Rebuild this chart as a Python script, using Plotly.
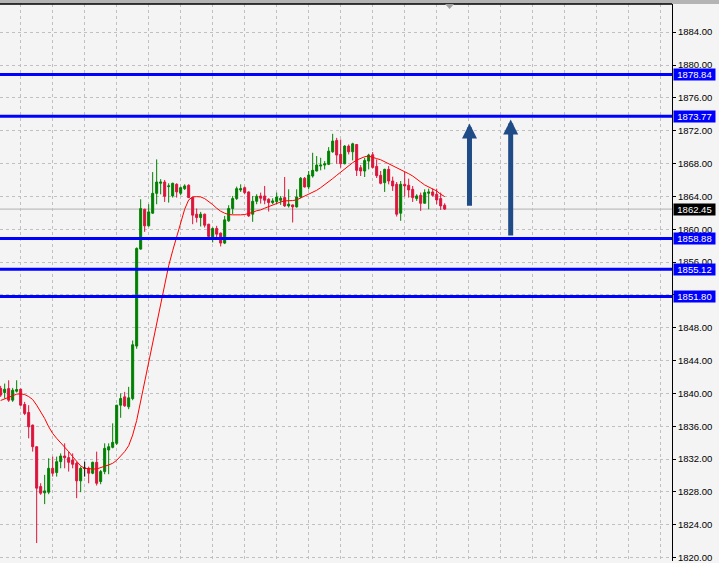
import plotly.graph_objects as go

# ---------------- data ----------------
bar_index = list(range(112))

open_ = [1840.59, 1840.11, 1840.59, 1839.18, 1840.27, 1840.51, 1838.65, 1837.68, 1836.14, 1833.51,
         1828.66, 1827.89, 1827.97, 1830.88, 1830.36, 1831.69, 1832.38, 1832.18, 1831.90, 1831.49,
         1829.35, 1830.88, 1830.88, 1830.28, 1831.61, 1829.27, 1830.48, 1833.11, 1833.43, 1833.92,
         1838.57, 1839.58, 1838.37, 1839.37, 1845.77, 1857.58, 1862.43, 1860.41, 1861.95, 1864.37,
         1865.60, 1865.75, 1865.19, 1864.05, 1865.47, 1864.38, 1864.94, 1865.35, 1863.85, 1861.83,
         1861.42, 1861.83, 1860.61, 1858.99, 1860.09, 1859.52, 1858.31, 1861.02, 1862.52, 1863.73,
         1864.78, 1865.06, 1864.54, 1861.83, 1863.40, 1864.05, 1864.05, 1863.65, 1863.24, 1863.36,
         1863.53, 1863.85, 1862.84, 1862.96, 1862.72, 1863.93, 1866.20, 1865.15, 1866.48, 1867.09,
         1867.69, 1867.81, 1867.90, 1869.43, 1870.81, 1869.11, 1867.98, 1870.12, 1869.43, 1870.32,
         1867.49, 1867.09, 1868.30, 1869.07, 1867.65, 1866.56, 1865.67, 1867.29, 1865.87, 1865.47,
         1861.95, 1865.47, 1865.35, 1864.86, 1863.73, 1864.13, 1863.16, 1864.38, 1864.54, 1864.26,
         1863.73, 1862.92]

high = [1840.92, 1841.20, 1841.60, 1840.67, 1841.60, 1840.59, 1838.97, 1838.57, 1836.20, 1833.55,
        1829.06, 1830.08, 1832.10, 1832.30, 1832.30, 1832.70, 1833.92, 1832.91, 1832.70, 1831.69,
        1831.09, 1831.69, 1831.09, 1831.69, 1832.91, 1830.68, 1833.92, 1833.92, 1836.35, 1838.60,
        1840.00, 1840.19, 1840.80, 1846.45, 1857.78, 1863.65, 1862.50, 1863.04, 1866.96, 1868.50,
        1866.10, 1866.00, 1865.59, 1865.67, 1865.59, 1865.19, 1865.47, 1865.47, 1863.90, 1862.52,
        1862.11, 1861.90, 1860.65, 1860.21, 1860.41, 1859.60, 1861.62, 1862.92, 1864.05, 1865.19,
        1865.47, 1865.19, 1864.60, 1864.05, 1864.26, 1864.46, 1865.27, 1863.77, 1863.77, 1864.46,
        1864.05, 1866.36, 1864.86, 1863.00, 1864.86, 1866.36, 1866.36, 1867.09, 1869.31, 1868.91,
        1868.70, 1868.30, 1870.00, 1871.62, 1871.13, 1870.93, 1870.24, 1870.32, 1870.53, 1870.36,
        1867.81, 1868.70, 1869.19, 1869.40, 1868.50, 1867.09, 1867.37, 1867.69, 1866.40, 1865.75,
        1865.87, 1866.97, 1866.16, 1865.27, 1864.26, 1864.46, 1864.86, 1864.94, 1864.94, 1864.94,
        1864.46, 1863.16]

low = [1839.58, 1839.38, 1838.97, 1838.97, 1840.11, 1838.50, 1837.36, 1834.53, 1832.91, 1821.78,
       1827.65, 1826.52, 1827.73, 1829.87, 1829.87, 1830.88, 1830.88, 1830.48, 1830.88, 1827.24,
       1827.97, 1829.87, 1829.06, 1830.16, 1828.78, 1828.94, 1830.16, 1830.16, 1833.31, 1833.72,
       1837.03, 1838.37, 1838.08, 1839.17, 1845.44, 1857.50, 1859.68, 1860.33, 1861.90, 1863.04,
       1864.25, 1863.32, 1863.24, 1863.85, 1863.85, 1864.13, 1864.78, 1863.80, 1860.61, 1860.82,
       1860.33, 1860.21, 1858.99, 1858.39, 1858.79, 1857.90, 1858.19, 1860.90, 1861.83, 1863.57,
       1864.54, 1864.25, 1861.50, 1860.90, 1863.04, 1863.12, 1863.04, 1862.15, 1863.04, 1863.04,
       1862.96, 1862.72, 1862.64, 1860.82, 1862.64, 1863.77, 1865.07, 1864.86, 1866.28, 1867.05,
       1867.17, 1867.29, 1867.81, 1869.31, 1867.98, 1867.49, 1867.90, 1869.11, 1868.38, 1866.48,
       1866.48, 1866.36, 1867.29, 1867.41, 1866.24, 1865.47, 1864.54, 1865.47, 1864.66, 1861.54,
       1861.02, 1863.97, 1863.85, 1863.32, 1863.45, 1862.23, 1863.16, 1862.43, 1863.97, 1863.04,
       1862.35, 1862.35]

close = [1839.80, 1840.51, 1839.18, 1840.39, 1840.47, 1838.57, 1837.56, 1835.94, 1833.51, 1828.46,
         1827.85, 1828.13, 1830.88, 1830.28, 1831.69, 1832.38, 1832.18, 1831.61, 1831.37, 1829.35,
         1830.88, 1830.88, 1830.28, 1831.61, 1829.06, 1830.48, 1833.31, 1833.51, 1834.04, 1838.57,
         1839.38, 1838.49, 1839.46, 1845.93, 1857.66, 1862.51, 1860.41, 1862.11, 1864.37, 1865.75,
         1865.75, 1864.00, 1865.27, 1865.59, 1864.54, 1865.06, 1865.27, 1863.85, 1861.71, 1861.42,
         1861.83, 1860.49, 1859.12, 1860.09, 1859.40, 1858.31, 1861.14, 1862.52, 1863.73, 1864.94,
         1864.94, 1864.46, 1861.62, 1863.40, 1864.00, 1863.77, 1863.53, 1863.24, 1863.45, 1863.93,
         1863.77, 1862.84, 1863.04, 1862.72, 1863.93, 1866.20, 1865.15, 1866.60, 1867.17, 1867.81,
         1867.81, 1867.98, 1869.51, 1870.73, 1869.03, 1867.98, 1870.12, 1869.43, 1870.40, 1867.17,
         1867.09, 1868.38, 1869.03, 1867.53, 1866.52, 1865.59, 1867.29, 1865.87, 1865.27, 1861.83,
         1865.47, 1865.27, 1864.78, 1863.85, 1864.05, 1863.16, 1864.46, 1864.54, 1864.13, 1863.57,
         1862.84, 1862.45]

moving_avg = [1839.14, 1839.34, 1839.58, 1839.78, 1839.91, 1839.95, 1839.86, 1839.62, 1839.26, 1838.57,
              1837.84, 1836.95, 1835.94, 1835.13, 1834.53, 1834.00, 1833.51, 1832.91, 1832.30, 1831.69,
              1831.17, 1830.88, 1830.80, 1830.80, 1830.80, 1830.92, 1831.13, 1831.29, 1831.49, 1831.85,
              1832.34, 1832.91, 1833.63, 1834.93, 1836.70, 1839.10, 1841.50, 1843.82, 1846.25, 1848.48,
              1851.10, 1853.33, 1855.55, 1857.38, 1859.12, 1861.02, 1862.43, 1863.57, 1863.93, 1863.97,
              1863.93, 1863.73, 1863.41, 1863.00, 1862.56, 1862.19, 1861.95, 1861.79, 1861.75, 1861.71,
              1861.75, 1861.79, 1861.91, 1862.05, 1862.25, 1862.35, 1862.56, 1862.76, 1862.92, 1863.12,
              1863.32, 1863.45, 1863.45, 1863.49, 1863.57, 1863.81, 1864.01, 1864.21, 1864.46, 1864.74,
              1865.06, 1865.39, 1865.79, 1866.16, 1866.56, 1866.97, 1867.33, 1867.73, 1868.10, 1868.42,
              1868.66, 1868.83, 1868.91, 1868.72, 1868.60, 1868.46, 1868.22, 1868.02, 1867.81, 1867.49,
              1867.25, 1867.01, 1866.76, 1866.48, 1866.16, 1865.75, 1865.39, 1865.15, 1864.94, 1864.66,
              1864.26, 1863.97]

level_prices = [1878.84, 1873.77, 1858.88, 1855.12, 1851.80]
last_price = 1862.45
tick_values = [1820, 1824, 1828, 1832, 1836, 1840, 1844, 1848, 1852, 1856,
               1860, 1864, 1868, 1872, 1876, 1880, 1884]
tick_labels = ["%.2f" % v for v in tick_values]

# arrows: (bar position, tail price, head price)
arrow_specs = [(117.2, 1862.68, 1872.87), (127.5, 1859.04, 1873.36)]

# ---------------- figure ----------------
BG = "#f4f4f4"
GREEN = "#008000"
RED = "#dc143c"
GRID = "#c0c0c0"
FONT = "Liberation Sans"

normal = [i for i in bar_index if open_[i] != close[i]]
doji = [i for i in bar_index if open_[i] == close[i]]

fig = go.Figure()
fig.add_trace(go.Candlestick(
    x=[bar_index[i] for i in normal],
    open=[open_[i] for i in normal],
    high=[high[i] for i in normal],
    low=[low[i] for i in normal],
    close=[close[i] for i in normal],
    increasing=dict(line=dict(color=GREEN, width=1), fillcolor=GREEN),
    decreasing=dict(line=dict(color=RED, width=1), fillcolor=RED),
    whiskerwidth=0,
    hoverinfo="skip",
))
fig.add_trace(go.Candlestick(
    x=[bar_index[i] for i in doji],
    open=[open_[i] for i in doji],
    high=[high[i] for i in doji],
    low=[low[i] for i in doji],
    close=[close[i] for i in doji],
    increasing=dict(line=dict(color="black", width=1), fillcolor="black"),
    decreasing=dict(line=dict(color="black", width=1), fillcolor="black"),
    whiskerwidth=0,
    hoverinfo="skip",
))
fig.add_trace(go.Scatter(
    x=bar_index, y=moving_avg, mode="lines",
    line=dict(color="#ff0000", width=1), hoverinfo="skip",
))

shapes = []
# top frame
shapes.append(dict(type="rect", xref="paper", yref="paper", x0=0, x1=1.08,
                   y0=1, y1=1 + 4 / 559, fillcolor="#b4b4b4", line=dict(width=0)))
shapes.append(dict(type="line", xref="paper", yref="paper", x0=0, x1=1,
                   y0=1, y1=1, line=dict(color="black", width=1.5)))
# chart shift marker
shapes.append(dict(type="path", xref="x", yref="paper",
                   path="M 111.09,1 L 113.34,1 L 112.21,0.991 Z",
                   fillcolor="#a0a0a0", line=dict(width=0)))
# bid line
shapes.append(dict(type="line", xref="paper", yref="y", x0=0, x1=1,
                   y0=last_price, y1=last_price, layer="between",
                   line=dict(color="#b0b0b0", width=1)))
for v in level_prices:
    shapes.append(dict(type="line", xref="paper", yref="y", x0=0, x1=1,
                       y0=v, y1=v, line=dict(color="#0000ff", width=3)))

annotations = []
for v in level_prices:
    annotations.append(dict(text="%.2f" % v, x=1, xref="paper", xanchor="left", xshift=1,
                            y=v, yref="y", yanchor="middle", showarrow=False,
                            bgcolor="#0000ff", width=41, height=11, borderpad=0,
                            align="center", font=dict(family=FONT, size=9.5, color="white")))
annotations.append(dict(text="%.2f" % last_price, x=1, xref="paper", xanchor="left", xshift=1,
                        y=last_price, yref="y", yanchor="middle", showarrow=False,
                        bgcolor="black", width=41, height=11, borderpad=0,
                        align="center", font=dict(family=FONT, size=9.5, color="white")))
for xb, tail, head in arrow_specs:
    annotations.append(dict(text="", x=xb, y=head, xref="x", yref="y",
                            ax=xb, ay=tail, axref="x", ayref="y",
                            showarrow=True, arrowhead=2, arrowsize=0.6, arrowwidth=5,
                            arrowcolor="#1f4b87"))

fig.update_layout(
    width=719, height=563,
    margin=dict(l=0, r=47, t=4, b=0),
    paper_bgcolor=BG, plot_bgcolor=BG,
    showlegend=False,
    boxgap=0.5, boxgroupgap=0,
    font=dict(family=FONT, size=9.5, color="black"),
    shapes=shapes, annotations=annotations,
    xaxis=dict(range=[-0.167, 167.83], rangeslider=dict(visible=False),
               showticklabels=False, ticks="", showgrid=True, gridcolor=GRID,
               griddash="3px,3px", gridwidth=1, tick0=5, dtick=8,
               zeroline=False, showline=False),
    yaxis=dict(side="right", range=[1819.59, 1887.43],
               tickmode="array", tickvals=tick_values, ticktext=tick_labels,
               ticklabeloverflow="allow",
               showgrid=True, gridcolor=GRID, griddash="3px,3px", gridwidth=1,
               ticks="outside", ticklen=3, tickcolor="black",
               showline=True, linecolor="black", linewidth=1, zeroline=False,
               tickfont=dict(family=FONT, size=9.5, color="black")),
)

fig.write_html(
    "out.html",
    config={"displayModeBar": False, "staticPlot": True},
    post_script="document.body.style.margin='0';document.body.style.overflow='hidden';"
                "document.body.style.background='#f4f4f4';",
)
